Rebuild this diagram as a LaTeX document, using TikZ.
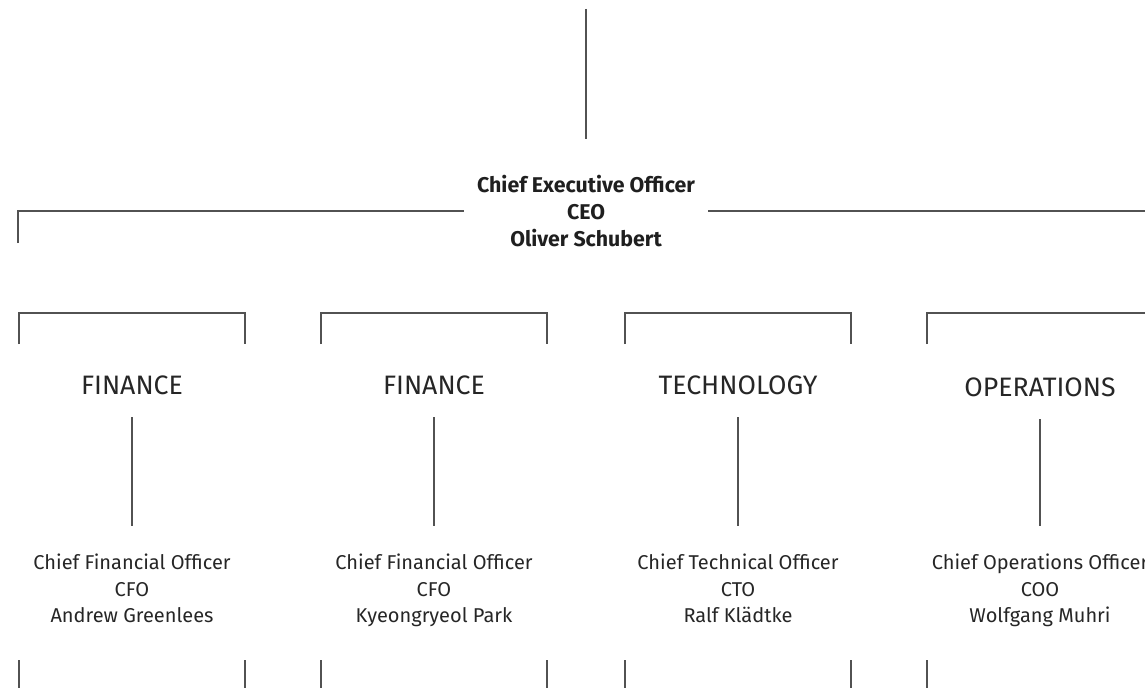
\documentclass[tikz,border=0pt]{standalone}
\usepackage{fontspec}
\setmainfont{Fira Sans}
\usepackage{xcolor}
\usetikzlibrary{positioning,calc}

\begin{document}
\begin{tikzpicture}[x=0.75pt, y=-0.75pt]
  % Define styles
  \tikzstyle{line} = [draw=black!68, line width=1.2pt]
  \tikzstyle{head} = [font=\fontsize{16}{20.6}\selectfont\bfseries, align=center, text=black!88, inner ysep=0pt, inner xsep=10pt, execute at begin node=\rule{0pt}{22pt}]
  \tikzstyle{dept} = [font=\fontsize{20}{24}\selectfont, text=black!85, inner sep=0pt, execute at begin node=\strut]
  \tikzstyle{person} = [font=\fontsize{15}{19.9}\selectfont, align=center, text=black!85, inner sep=0pt, execute at begin node=\strut, execute at end node=\strut]
  \tikzstyle{link} = [line, shorten <=10pt, shorten >=21pt]

  \clip (0,0) rectangle (1145,688);

  % CEO
  \coordinate (top) at (586,9);
  \coordinate (topend) at (586,139);
  \draw [line] (top) -- (topend);
  \node [head] (ceo) at (586,211) {Chief Executive Officer\\CEO\\Oliver Schubert};
  \coordinate (ceoleft) at (18,243);
  \coordinate (ceoright) at (1145,211);
  \draw [line] (ceoleft) |- (ceo.west);
  \draw [line] (ceo.east) -- (ceoright);

  % Departments
  \foreach \x/\y/\id/\dept/\title/\abbr/\name in {
      132/387.6/fin/FINANCE/Chief Financial Officer/CFO/Andrew Greenlees,
      434/387.6/fin2/FINANCE/Chief Financial Officer/CFO/Kyeongryeol Park,
      738/387.6/tech/TECHNOLOGY/Chief Technical Officer/CTO/Ralf Klädtke,
      1040/389.6/ops/OPERATIONS/Chief Operations Officer/COO/Wolfgang Muhri} {
    \draw [line] (\x-113,344) -- (\x-113,313) -- (\x+113,313) -- (\x+113,344);
    \node [dept] (\id) at (\x,\y) {\dept};
    \node [person] (\id head) at (\x,592.6) {\title\\\abbr\\\name};
    \draw [link] (\id) -- (\id head);
    \draw [line] (\x-113,660) -- (\x-113,688);
    \draw [line] (\x+113,660) -- (\x+113,688);
  }

\end{tikzpicture}
\end{document}
